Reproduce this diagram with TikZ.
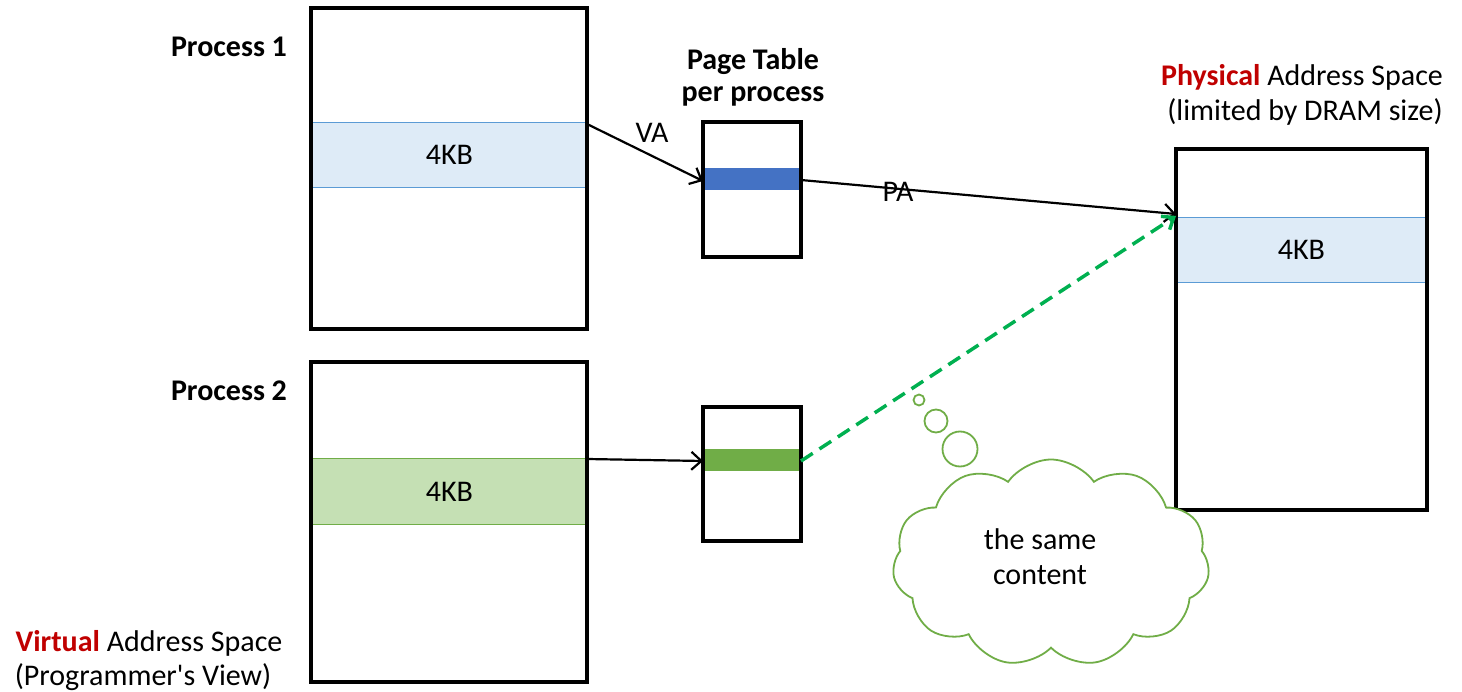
\documentclass[tikz,border=0pt]{standalone}
\usepackage{fontspec}
\setmainfont{Carlito}[Ligatures=TeXOff]
\usetikzlibrary{arrows.meta,shapes.symbols}
\definecolor{lblue}{HTML}{DEEBF7}
\definecolor{lbluedge}{HTML}{5B9BD5}
\definecolor{dblue}{HTML}{4472C4}
\definecolor{lgreen}{HTML}{C5E0B4}
\definecolor{dgreen}{HTML}{70AD47}
\definecolor{dashgreen}{HTML}{00B050}
\definecolor{accent}{HTML}{C00000}
\tikzset{
  membox/.style={draw=black, line width=3.4pt},
  pagestrip/.style={line width=0.8pt},
  lbl/.style={font=\fontsize{30}{35}\selectfont, inner sep=0pt},
  boldlbl/.style={lbl, font=\fontsize{30}{35}\selectfont\bfseries},
  link/.style={-{Straight Barb[length=10pt,width=18pt,line width=2.2pt]}, line width=2.2pt},
}
\begin{document}
\begin{tikzpicture}[x=1pt,y=-1pt]
\useasboundingbox (0,0) rectangle (1462,692);

% process 1 virtual space
\node[draw=lbluedge, fill=lblue, pagestrip, minimum width=276, minimum height=65, inner sep=0pt, anchor=north west] (p1page) at (311,122) {};
\node[lbl] at (p1page.center) {4KB};
\draw[membox] (311,8) rectangle (587,329);

% process 2 virtual space
\node[draw=dgreen, fill=lgreen, pagestrip, minimum width=276, minimum height=66, inner sep=0pt, anchor=north west] (p2page) at (311,458) {};
\node[lbl] at (p2page.center) {4KB};
\draw[membox] (311,362) rectangle (587,682);

% page tables
\node[fill=dblue, draw=dblue, minimum width=98, minimum height=21, inner sep=0pt, anchor=north west] (pte1) at (703,168) {};
\draw[membox] (703,122) rectangle (801,257);

\node[fill=dgreen, draw=dgreen, minimum width=98, minimum height=21, inner sep=0pt, anchor=north west] (pte2) at (703,449) {};
\draw[membox] (703,407) rectangle (801,541);

% physical space
\node[draw=lbluedge, fill=lblue, pagestrip, minimum width=250, minimum height=65, inner sep=0pt, anchor=north west] (frame) at (1176,217) {};
\node[lbl] at (frame.center) {4KB};
\draw[membox] (1176,149) rectangle (1427,510);

% labels
\node[boldlbl] (lp1) at (229,47) {Process 1};
\node[boldlbl] (lp2) at (229,391) {Process 2};
\node[boldlbl] (lpt1) at (753,62) {Page Table};
\node[boldlbl] (lpt2) at (753,96) {per process};
\node[lbl] (lphys) at (1302,77) {\textcolor{accent}{\bfseries Physical} Address Space};
\node[lbl] (lphys2) at (1305,112) {(limited by DRAM size)};
\node[lbl] (lvirt) at (149,643) {\textcolor{accent}{\bfseries Virtual} Address Space};
\node[lbl] (lvirt2) at (143,677) {(Programmer's View)};

% translations
\coordinate (vaS) at (587,124);
\coordinate (vaE) at (703,181);
\coordinate (paS) at (801,180);
\coordinate (paE) at (1176,214);
\coordinate (v2S) at (587,459);
\coordinate (v2E) at (703,461);
\coordinate (g2S) at (801,461);
\coordinate (g2E) at (1176,216);
\draw[link] (vaS) -- (vaE);
\node[lbl] (va) at (652,133) {VA};
\draw[link] (paS) -- (paE);
\node[lbl] (pa) at (898,192) {PA};
\draw[link] (v2S) -- (v2E);
\draw[link, draw=dashgreen, dash pattern=on 14pt off 8pt, line width=3.5pt,
  -{Straight Barb[length=10pt,width=16pt,line width=3.5pt]}] (g2S) -- (g2E);

% thought cloud
\node[cloud, draw=dgreen, fill=white, line width=1.8pt, cloud puffs=11, cloud puff arc=110,
  aspect=1.5, minimum width=317, minimum height=207, inner sep=0pt] (cloud) at (1051,563) {};
\node[lbl, align=center] (thought) at (1040,557) {the same\\content};
\draw[dgreen, line width=1.8pt] (919,400) circle (5.5);
\draw[dgreen, line width=1.8pt] (936,421) circle (11.5);
\draw[dgreen, line width=1.8pt] (960,449) circle (17.5);
\end{tikzpicture}
\end{document}
